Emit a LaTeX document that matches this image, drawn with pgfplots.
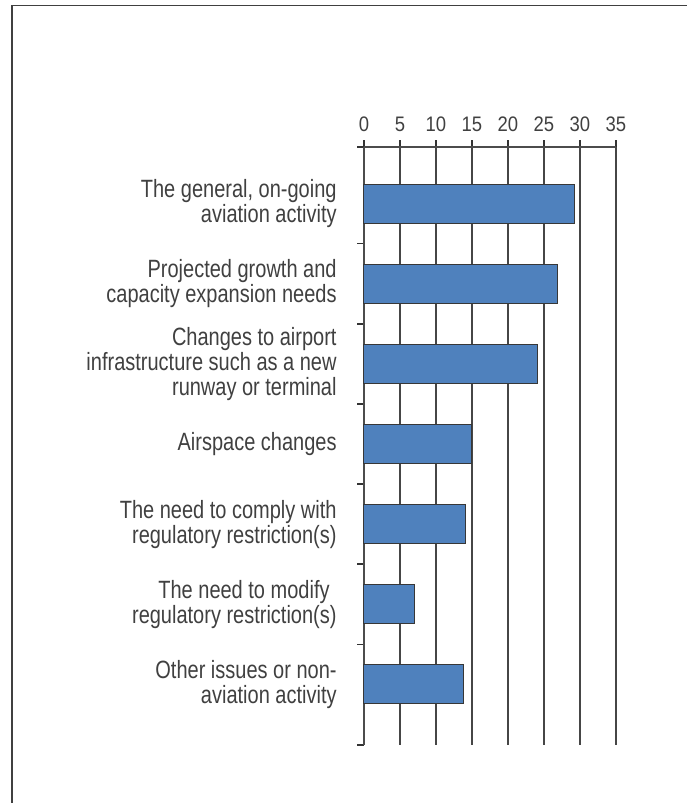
\documentclass[border=0pt]{standalone}
\usepackage{fontspec}
\setmainfont{Liberation Sans}[FakeStretch=0.8]
\newfontfamily\tickfont{Liberation Sans}[FakeStretch=0.88]
\usepackage{pgfplots}
\pgfplotsset{compat=1.18}
\definecolor{barblue}{RGB}{79,129,189}
\definecolor{baredge}{RGB}{55,55,55}
\definecolor{txt}{RGB}{64,64,64}
\definecolor{gridc}{RGB}{70,70,70}
\begin{document}
\begin{tikzpicture}[x=0.5pt,y=0.5pt]
\useasboundingbox (0,0) rectangle (687,803);
\draw[gray!50!black, line width=0.8pt] (12,0) -- (12,797.5) -- (687,797.5);
\begin{axis}[
  at={(182pt,29pt)}, anchor=south west,
  scale only axis, width=126pt, height=299pt,
  xbar, bar width=19.5pt,
  xmin=0, xmax=35, ymin=-0.71, ymax=6.76, y dir=reverse,
  axis x line=top, axis y line=left,
  axis line style={-, draw=gray!60!black, line width=0.7pt},
  xtick={0,5,...,35},
  /pgf/number format/assume math mode=true,
  tick align=outside,
  major tick length=3.3pt,
  tick style={draw=gray!40!black, line width=0.6pt},
  xmajorgrids,
  major grid style={draw=gridc, line width=0.6pt},
  xticklabel style={font=\tickfont\fontsize{10.5}{10.5}\selectfont, text=txt, anchor=south, inner sep=0pt, yshift=4pt},
  ytick={-0.71,0.5,1.5,2.5,3.5,4.5,5.5,6.76},
  yticklabels={},
  extra y ticks={0,1,2,3,4,5,6},
  extra y tick labels={{The general, on-going\\aviation activity},
    {Projected growth and\\capacity expansion needs},
    {Changes to airport\\infrastructure such as a new\\runway or terminal},
    {Airspace changes},
    {The need to comply with\\regulatory restriction(s)},
    {The need to modify\hspace*{0.28em}\\regulatory restriction(s)},
    {Other issues or non-\\aviation activity}},
  extra y tick style={major tick length=0pt, grid=none,
    yticklabel style={font=\fontsize{12.5}{12.5}\selectfont, text=txt, align=right, anchor=east, inner sep=0pt, xshift=-13.5pt}},
  clip=false,
]
\addplot[fill=barblue, draw=baredge, line width=0.5pt] coordinates {
  (29.25,0) (26.85,1) (24.03,2) (15.0,3) (14.07,4) (7.08,5) (13.8,6)
};
\end{axis}
\end{tikzpicture}
\end{document}
